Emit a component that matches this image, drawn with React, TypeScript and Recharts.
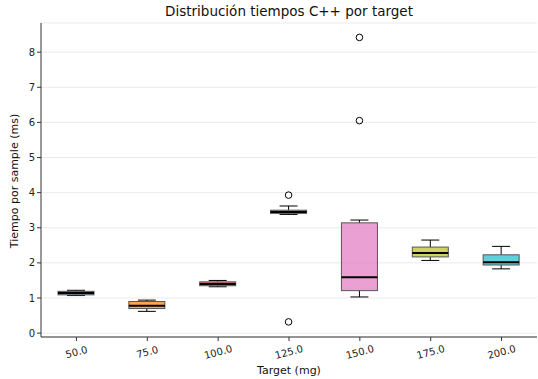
import { ComposedChart, Bar, XAxis, YAxis, CartesianGrid } from 'recharts';

const targets = ['50.0', '75.0', '100.0', '125.0', '150.0', '175.0', '200.0'];
const whiskerLow = [1.07, 0.62, 1.32, 3.38, 1.03, 2.07, 1.83];
const q1 = [1.09, 0.70, 1.35, 3.41, 1.21, 2.17, 1.94];
const medians = [1.14, 0.78, 1.40, 3.45, 1.59, 2.28, 2.02];
const q3 = [1.19, 0.90, 1.46, 3.50, 3.14, 2.45, 2.23];
const whiskerHigh = [1.22, 0.94, 1.50, 3.62, 3.22, 2.65, 2.47];
const outliers: number[][] = [[], [], [], [3.93, 0.32], [8.42, 6.05], [], []];
const boxColors = ['#1f77b4', '#ff7f0e', '#d62728', '#8c564b', '#e377c2', '#bcbd22', '#17becf'];
const yTicks = [0, 1, 2, 3, 4, 5, 6, 7, 8];

const data = targets.map((t, i) => ({
  target: t,
  range: [whiskerLow[i], whiskerHigh[i]],
  lo: whiskerLow[i],
  q1: q1[i],
  med: medians[i],
  q3: q3[i],
  hi: whiskerHigh[i],
  out: outliers[i],
  color: boxColors[i],
}));

// draws a whole box plot; pixel positions come from the bar's own scaled range
const BoxShape = (props: any) => {
  const { x, y, width, height, payload } = props;
  const d = payload;
  const top = Math.min(y, y + height);
  const bot = Math.max(y, y + height);
  const ppu = (bot - top) / (d.hi - d.lo);
  const py = (v: number) => bot - (v - d.lo) * ppu;
  const cx = x + width / 2;
  const cap = width / 4;
  return (
    <g>
      <line x1={cx} x2={cx} y1={py(d.hi)} y2={py(d.q3)} stroke="#000" strokeWidth={1} />
      <line x1={cx} x2={cx} y1={py(d.q1)} y2={py(d.lo)} stroke="#000" strokeWidth={1} />
      <line x1={cx - cap} x2={cx + cap} y1={py(d.hi)} y2={py(d.hi)} stroke="#000" strokeWidth={1} />
      <line x1={cx - cap} x2={cx + cap} y1={py(d.lo)} y2={py(d.lo)} stroke="#000" strokeWidth={1} />
      <rect x={x} y={py(d.q3)} width={width} height={py(d.q1) - py(d.q3)} fill={d.color} fillOpacity={0.7} stroke="#555" strokeWidth={1} />
      <line x1={x} x2={x + width} y1={py(d.med)} y2={py(d.med)} stroke="#000" strokeWidth={2} />
      {d.out.map((v: number, k: number) => (
        <circle key={k} cx={cx} cy={py(v)} r={3.3} fill="none" stroke="#000" strokeWidth={1} />
      ))}
    </g>
  );
};

const XTick = ({ x, y, payload }: any) => (
  <g transform={`translate(${x},${y + 9})`}>
    <text transform="rotate(-15)" textAnchor="middle" dominantBaseline="central" fontSize={10} fill="#222">
      {payload.value}
    </text>
  </g>
);

export default function App() {
  return (
    <div style={{ position: 'absolute', left: 0, top: 0, width: 538, height: 379, fontFamily: '"DejaVu Sans", sans-serif', background: '#fff' }}>
      <ComposedChart width={538} height={379} data={data} margin={{ top: 23, right: 1, bottom: 0, left: 0 }}>
        <CartesianGrid vertical={false} stroke="#ebebeb" />
        <XAxis dataKey="target" type="category" height={42} tickSize={4} stroke="#333" tick={<XTick />} />
        <XAxis xAxisId="top" dataKey="target" orientation="top" height={0} tick={false} tickLine={false} stroke="#333" />
        <YAxis type="number" domain={[-0.11, 8.83]} ticks={yTicks} allowDataOverflow width={41} tickSize={4} stroke="#333"
          tick={{ fontSize: 10, fill: '#222' }} />
        <YAxis yAxisId="right" orientation="right" type="number" domain={[-0.11, 8.83]} width={0} tick={false} tickLine={false} stroke="#333" />
        <Bar dataKey="range" barSize={36} shape={<BoxShape />} isAnimationActive={false} />
      </ComposedChart>
      <div style={{ position: 'absolute', left: 0, width: 578, top: 3, textAlign: 'center', fontSize: 13.5, color: '#111' }}>
        Distribución tiempos C++ por target
      </div>
      <div style={{ position: 'absolute', left: 0, width: 578, top: 364, textAlign: 'center', fontSize: 11, color: '#111' }}>
        Target (mg)
      </div>
      <div style={{ position: 'absolute', left: 14, top: 181, transform: 'translate(-50%, -50%) rotate(-90deg)', whiteSpace: 'nowrap', fontSize: 11, color: '#111' }}>
        Tiempo por sample (ms)
      </div>
    </div>
  );
}
